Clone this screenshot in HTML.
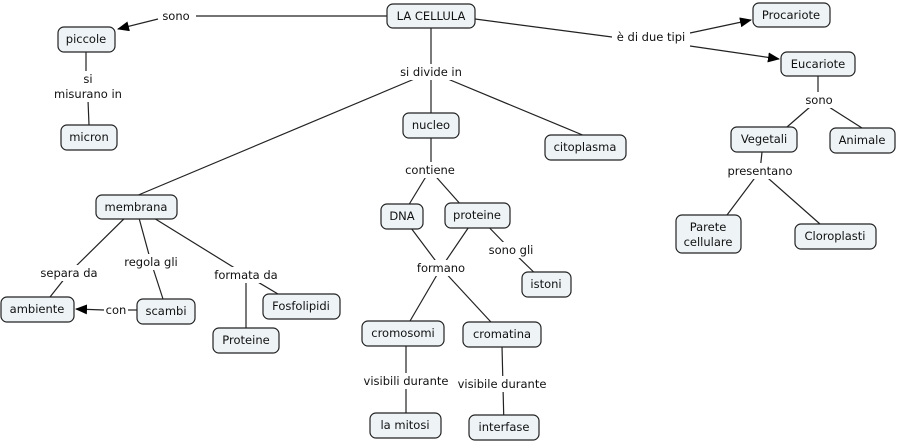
<!DOCTYPE html>
<html><head><meta charset="utf-8"><style>
html,body{margin:0;padding:0;background:#fff;width:897px;height:444px;overflow:hidden}
svg text{font-family:"DejaVu Sans","Liberation Sans",sans-serif;font-size:11.5px;fill:#111}
</style></head><body>
<svg width="897" height="444" viewBox="0 0 897 444" xmlns="http://www.w3.org/2000/svg">
<defs><marker id="a" markerWidth="12" markerHeight="10" refX="11" refY="5" orient="auto" markerUnits="userSpaceOnUse"><path d="M0,0 L12,5 L0,10 z" fill="#000"/></marker></defs>
<g stroke="#222" stroke-width="1.2" fill="none">
<!-- top -->
<line x1="196" y1="16" x2="387" y2="16"/>
<line x1="158" y1="19" x2="118" y2="29" marker-end="url(#a)"/>
<line x1="475" y1="19" x2="612" y2="37"/>
<line x1="690" y1="33" x2="751" y2="20" marker-end="url(#a)"/>
<line x1="690" y1="46" x2="779" y2="59" marker-end="url(#a)"/>
<line x1="431" y1="28" x2="431" y2="72"/>
<line x1="431" y1="72" x2="136" y2="196"/>
<line x1="431" y1="72" x2="431" y2="113"/>
<line x1="431" y1="72" x2="585" y2="136"/>
<line x1="86" y1="52" x2="86" y2="79"/>
<line x1="88" y1="100" x2="89" y2="125"/>
<!-- nucleo -->
<line x1="431" y1="138" x2="431" y2="170"/>
<line x1="430" y1="170" x2="402" y2="216"/>
<line x1="430" y1="170" x2="470" y2="215"/>
<line x1="402" y1="216" x2="441" y2="268"/>
<line x1="477" y1="215" x2="441" y2="268"/>
<line x1="441" y1="268" x2="403" y2="333"/>
<line x1="441" y1="268" x2="502" y2="334"/>
<line x1="477" y1="215" x2="511" y2="250"/>
<line x1="511" y1="250" x2="546" y2="284"/>
<line x1="406" y1="346" x2="406" y2="425"/>
<line x1="502" y1="346" x2="504" y2="427"/>
<!-- membrana -->
<line x1="136" y1="207" x2="69" y2="273"/>
<line x1="69" y1="273" x2="50" y2="297"/>
<line x1="136" y1="207" x2="151" y2="262"/>
<line x1="151" y1="262" x2="163" y2="299"/>
<line x1="136" y1="207" x2="246" y2="275"/>
<line x1="246" y1="275" x2="246" y2="328"/>
<line x1="246" y1="275" x2="278" y2="294"/>
<line x1="137" y1="310" x2="128" y2="310"/>
<line x1="104" y1="310" x2="76" y2="309" marker-end="url(#a)"/>
<!-- eucariote -->
<line x1="818" y1="76" x2="818" y2="100"/>
<line x1="818" y1="100" x2="787" y2="127"/>
<line x1="818" y1="100" x2="862" y2="128"/>
<line x1="762" y1="152" x2="760" y2="171"/>
<line x1="760" y1="171" x2="727" y2="215"/>
<line x1="760" y1="171" x2="820" y2="224"/>
</g>
<g fill="#fff">
<rect x="160" y="8" width="34" height="16"/>
<rect x="612" y="29" width="78" height="16"/>
<rect x="393" y="64" width="76" height="16"/>
<rect x="48" y="71" width="80" height="31"/>
<rect x="402" y="162" width="56" height="16"/>
<rect x="802" y="92" width="34" height="16"/>
<rect x="726" y="163" width="70" height="16"/>
<rect x="38" y="265" width="62" height="16"/>
<rect x="121" y="254" width="60" height="16"/>
<rect x="212" y="267" width="68" height="16"/>
<rect x="104" y="302" width="24" height="16"/>
<rect x="415" y="260" width="52" height="16"/>
<rect x="486" y="242" width="50" height="16"/>
<rect x="360" y="373" width="92" height="16"/>
<rect x="454" y="376" width="96" height="16"/>
</g>
<g text-anchor="middle">
<text x="176" y="20">sono</text>
<text x="651" y="41">è di due tipi</text>
<text x="431" y="76">si divide in</text>
<text x="88" y="83">si</text>
<text x="88" y="98">misurano in</text>
<text x="430" y="174">contiene</text>
<text x="819" y="104">sono</text>
<text x="760" y="175">presentano</text>
<text x="69" y="277">separa da</text>
<text x="151" y="266">regola gli</text>
<text x="246" y="279">formata da</text>
<text x="116" y="314">con</text>
<text x="441" y="272">formano</text>
<text x="511" y="254">sono gli</text>
<text x="406" y="385">visibili durante</text>
<text x="502" y="388">visibile durante</text>
</g>
<g fill="#eef3f6" stroke="#222" stroke-width="1.2">
<rect x="387" y="4" width="88" height="24" rx="6"/>
<rect x="58" y="27" width="57" height="25" rx="6"/>
<rect x="61" y="125" width="56" height="25" rx="6"/>
<rect x="753" y="3" width="77" height="24" rx="6"/>
<rect x="781" y="52" width="74" height="24" rx="6"/>
<rect x="403" y="113" width="56" height="25" rx="6"/>
<rect x="545" y="135" width="81" height="25" rx="6"/>
<rect x="731" y="127" width="66" height="25" rx="6"/>
<rect x="830" y="128" width="65" height="25" rx="6"/>
<rect x="676" y="215" width="65" height="38" rx="6"/>
<rect x="795" y="224" width="81" height="25" rx="6"/>
<rect x="96" y="195" width="81" height="24" rx="6"/>
<rect x="381" y="204" width="42" height="25" rx="6"/>
<rect x="445" y="203" width="65" height="25" rx="6"/>
<rect x="522" y="272" width="49" height="25" rx="6"/>
<rect x="1" y="297" width="73" height="25" rx="6"/>
<rect x="137" y="299" width="58" height="25" rx="6"/>
<rect x="263" y="294" width="77" height="25" rx="6"/>
<rect x="213" y="328" width="66" height="25" rx="6"/>
<rect x="362" y="321" width="82" height="25" rx="6"/>
<rect x="463" y="322" width="78" height="25" rx="6"/>
<rect x="370" y="413" width="71" height="25" rx="6"/>
<rect x="469" y="415" width="70" height="25" rx="6"/>
</g>
<g text-anchor="middle">
<text x="431" y="20">LA CELLULA</text>
<text x="86" y="43">piccole</text>
<text x="89" y="141">micron</text>
<text x="791" y="19">Procariote</text>
<text x="818" y="68">Eucariote</text>
<text x="431" y="129">nucleo</text>
<text x="585" y="151">citoplasma</text>
<text x="764" y="143">Vegetali</text>
<text x="862" y="144">Animale</text>
<text x="708" y="231">Parete</text>
<text x="708" y="246">cellulare</text>
<text x="835" y="240">Cloroplasti</text>
<text x="136" y="211">membrana</text>
<text x="402" y="220">DNA</text>
<text x="477" y="219">proteine</text>
<text x="546" y="288">istoni</text>
<text x="37" y="313">ambiente</text>
<text x="166" y="315">scambi</text>
<text x="301" y="310">Fosfolipidi</text>
<text x="246" y="344">Proteine</text>
<text x="403" y="337">cromosomi</text>
<text x="502" y="338">cromatina</text>
<text x="405" y="429">la mitosi</text>
<text x="504" y="431">interfase</text>
</g>
</svg>
</body></html>
